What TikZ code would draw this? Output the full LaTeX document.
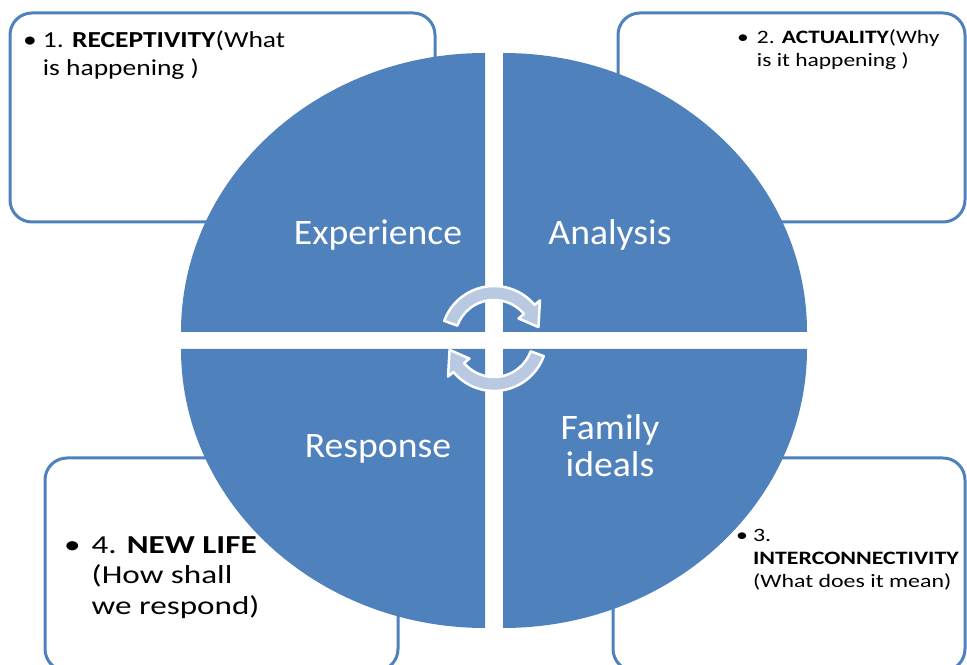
\documentclass[tikz,border=0pt]{standalone}
\usepackage{fontspec}
\setmainfont{Carlito}
\definecolor{segblue}{RGB}{79,129,189}
\definecolor{arrowfill}{RGB}{185,201,226}
\tikzset{
	notebox/.style={draw=segblue,line width=3bp,fill=white,rounded corners=22bp},
	seglabel/.style={text=white,inner sep=0pt,font=\fontsize{36}{37}\selectfont\addfontfeature{FakeStretch=1.05}},
	notetext/.style={text=black,inner sep=0pt,anchor=north west}
}
\tikzset{cyclearrow/.style={fill=arrowfill,draw=white,line width=2.5bp,line join=round}}
\begin{document}
\begin{tikzpicture}[x=1bp,y=1bp]
\clip (0,0) rectangle (967,665);
% boxes behind the circle
\draw[notebox] (10,652) rectangle (435,443);
\draw[notebox] (618,652) rectangle (965,443);
\draw[notebox] (613,207) rectangle (965,-6);
\draw[notebox] (45,207) rectangle (398,-6);
% four quarters of the circle
\foreach \cx/\cy/\a in {485/333/90, 503/333/0, 485/316/180, 503/316/270}
	\fill[segblue] (\cx,\cy) -- ++(\a:304 and 279) arc[start angle=\a,delta angle=90,x radius=304,y radius=279] -- cycle;
% quarter labels
\node[seglabel,anchor=base] (exper) at (378,420.5) {Experience};
\node[seglabel,anchor=base] (analy) at (610,420.5) {Analysis};
\node[seglabel,anchor=base] (respo) at (378,207.5) {Response};
\node[seglabel,anchor=north] (famil) at (610,251.5) {\begin{tabular}{@{}c@{}}Family\\ideals\end{tabular}};
% cycle arrows
\begin{scope}[shift={(494,326)}]
	\filldraw[cyclearrow] (160:53) arc[start angle=160,end angle=40,radius=53] -- (40:60) -- (15:46) -- (40:32) -- (40:39) arc[start angle=40,end angle=160,radius=39] -- cycle;
\end{scope}
\begin{scope}[shift={(494,327)},rotate=180]
	\filldraw[cyclearrow] (160:53) arc[start angle=160,end angle=40,radius=53] -- (40:60) -- (15:46) -- (40:32) -- (40:39) arc[start angle=40,end angle=160,radius=39] -- cycle;
\end{scope}
% box texts
\node[notetext,font=\fontsize{23}{28}\selectfont\addfontfeature{FakeStretch=1.2}] (recept) at (23,637) {\begin{tabular}{@{}l@{\hspace{6bp}}l@{}}•&1. \textbf{RECEPTIVITY}(What\\&is happening )\end{tabular}};
\node[notetext,font=\fontsize{19}{23}\selectfont\addfontfeature{FakeStretch=1.24}] (actual) at (737,638) {\begin{tabular}{@{}l@{\hspace{8bp}}l@{}}•&2. \textbf{ACTUALITY}(Why\\&is it happening )\end{tabular}};
\node[notetext,font=\fontsize{19}{23.5}\selectfont\addfontfeature{FakeStretch=1.26}] (interc) at (736,140.5) {\begin{tabular}{@{}l@{\hspace{5bp}}l@{}}•&3.\\&\textbf{INTERCONNECTIVITY}\\&(What does it mean)\end{tabular}};
\node[notetext,font=\fontsize{26}{30.5}\selectfont\addfontfeature{FakeStretch=1.28}] (newlif) at (64,133) {\begin{tabular}{@{}l@{\hspace{11bp}}l@{}}•&4. \textbf{NEW LIFE}\\&(How shall\\&we respond)\end{tabular}};
\end{tikzpicture}
\end{document}
